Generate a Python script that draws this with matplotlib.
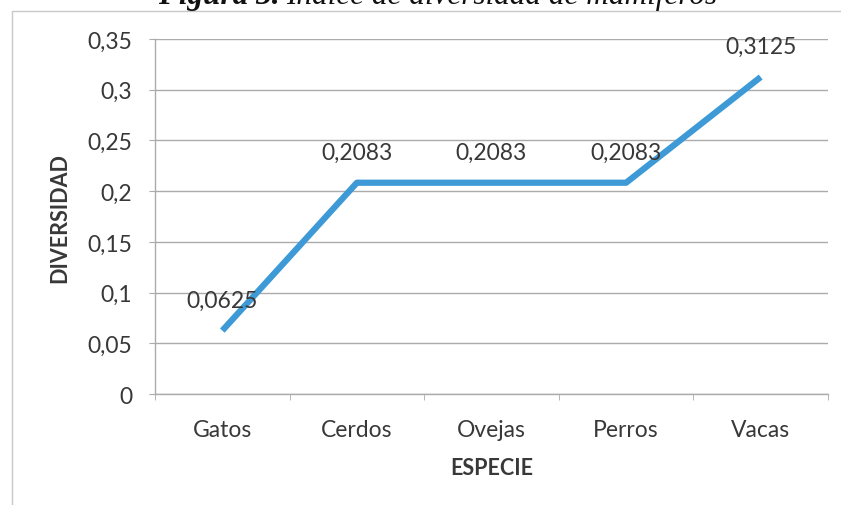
import matplotlib
matplotlib.use("Agg")
import matplotlib.pyplot as plt
from matplotlib.patches import Rectangle

# Datos del índice de diversidad por especie
especies = ["Gatos", "Cerdos", "Ovejas", "Perros", "Vacas"]
diversidad = [0.0625, 0.2083, 0.2083, 0.2083, 0.3125]
etiquetas = ["0,0625", "0,2083", "0,2083", "0,2083", "0,3125"]
ticks_y = [0, 0.05, 0.1, 0.15, 0.2, 0.25, 0.3, 0.35]
ticks_y_txt = ["0", "0,05", "0,1", "0,15", "0,2", "0,25", "0,3", "0,35"]

FUENTE = "Lato"
GRIS_TXT = "#383838"
GRIS_LINEA = "#ABABAB"
AZUL = "#3D9AD6"

fig = plt.figure(figsize=(8.41, 5.06), dpi=100)
ax = fig.add_axes([155 / 841, 1 - 395 / 506, 673 / 841, 355 / 506])

# Marco del gráfico (sale por la derecha y por abajo)
marco = Rectangle((12 / 841, -0.5), 2.0, 1 - 12 / 506 + 0.5, transform=fig.transFigure,
                  fill=False, edgecolor="#C8C8C8", linewidth=1.0, clip_on=False)
fig.add_artist(marco)

# Título, recortado en la parte superior
t1 = fig.text(158 / 841, 1 - 4 / 506, "Figura 3.", fontfamily="Liberation Serif",
              fontstyle="italic", fontweight="bold", fontsize=22.5, color="#111111",
              ha="left", va="baseline")
fig.canvas.draw()
bb = t1.get_window_extent()
fig.text(bb.x1 / 841 + 6 / 841, 1 - 4 / 506, "Índice de diversidad de mamíferos",
         fontfamily="Liberation Serif", fontstyle="italic", fontsize=22.5,
         color="#111111", ha="left", va="baseline")

x = list(range(len(especies)))
ax.plot(x, diversidad, color=AZUL, linewidth=4.5, solid_capstyle="butt", zorder=3)

for xi, yi, txt in zip(x, diversidad, etiquetas):
    ax.annotate(txt, (xi, yi), xytext=(0, 22), textcoords="offset points",
                ha="center", va="center", fontfamily=FUENTE, fontsize=16.5,
                color=GRIS_TXT, zorder=4)

ax.set_xlim(-0.5, len(especies) - 0.5)
ax.set_ylim(0, 0.35)
ax.set_yticks(ticks_y)
ax.set_yticklabels(ticks_y_txt)
ax.set_xticks(x)
ax.set_xticklabels(especies)
ax.set_xticks([i - 0.5 for i in range(len(especies) + 1)], minor=True)

ax.grid(axis="y", color=GRIS_LINEA, linewidth=1.0)
ax.set_axisbelow(True)
for lado in ["top", "right"]:
    ax.spines[lado].set_visible(False)
for lado in ["left", "bottom"]:
    ax.spines[lado].set_color(GRIS_LINEA)
    ax.spines[lado].set_linewidth(1.0)

ax.tick_params(axis="y", length=4.5, color=GRIS_LINEA, pad=12,
               labelsize=16.5, labelcolor=GRIS_TXT)
ax.tick_params(axis="x", which="major", length=0, pad=18,
               labelsize=16.5, labelcolor=GRIS_TXT)
ax.tick_params(axis="x", which="minor", length=4.5, color=GRIS_LINEA)
for lbl in ax.get_xticklabels() + ax.get_yticklabels():
    lbl.set_fontfamily(FUENTE)

ax.set_xlabel("ESPECIE", fontfamily=FUENTE, fontweight="bold", fontsize=15.5,
              color=GRIS_TXT, labelpad=12)
ax.set_ylabel("DIVERSIDAD", fontfamily=FUENTE, fontweight="bold", fontsize=15.5,
              color=GRIS_TXT, labelpad=12)

fig.savefig("out.png", dpi=100, facecolor="white")
